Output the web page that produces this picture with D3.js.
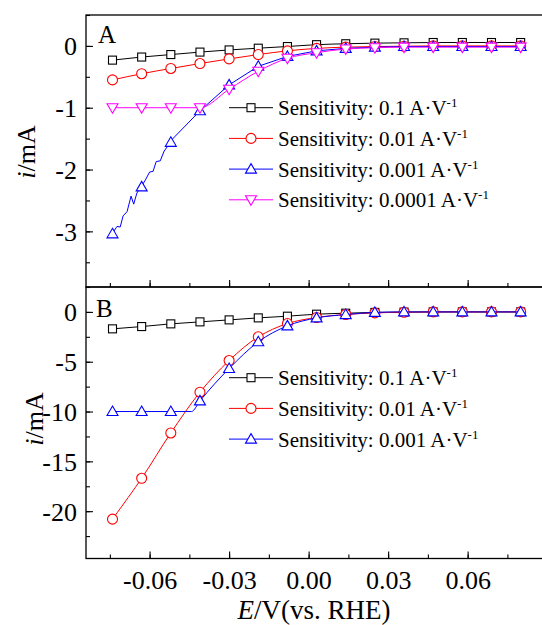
<!DOCTYPE html>
<html>
<head>
<meta charset="utf-8">
<script src="https://cdn.jsdelivr.net/npm/d3@7"></script>
<style>
  body { margin: 0; background: #fff; }
  svg, svg text { font-family: "Liberation Serif", "Times New Roman", serif; }
  .tick text { font-size: 26px; fill: #000; font-family: "Liberation Serif", "Times New Roman", serif; }
</style>
</head>
<body>
<div id="chart"></div>
<script>
// potential values (V vs. RHE) where markers sit
const potentials = [-0.074, -0.063, -0.052, -0.041, -0.030, -0.019, -0.008, 0.003, 0.014, 0.025, 0.036, 0.047, 0.058, 0.069, 0.080];

// panel A currents (mA)
const a_0_1 = [-0.23, -0.18, -0.14, -0.10, -0.065, -0.037, -0.01, 0.02, 0.035, 0.045, 0.05, 0.055, 0.055, 0.055, 0.055];
const a_0_01 = [-0.55, -0.45, -0.365, -0.285, -0.21, -0.14, -0.08, -0.04, -0.02, -0.01, -0.005, 0, 0, 0, 0];
const a_0_001 = [-3.04, -2.28, -1.56, -1.05, -0.63, -0.33, -0.17, -0.08, -0.04, -0.02, -0.01, -0.01, -0.01, -0.01, -0.01];
const a_0_0001 = [-1.0, -1.0, -1.0, -1.0, -0.70, -0.41, -0.20, -0.11, -0.05, -0.03, -0.02, -0.02, -0.02, -0.02, -0.02];
// noisy start of the 0.001 A/V trace in panel A
const a_0_001_traceE = [-0.0740, -0.0723, -0.0711, -0.0700, -0.0685, -0.0670, -0.0660, -0.0648, -0.0632, -0.0616, -0.0600, -0.0587, -0.0575, -0.0560, -0.0545, -0.0528, -0.0519];
const a_0_001_traceI = [-3.03, -2.92, -2.93, -2.75, -2.68, -2.43, -2.56, -2.38, -2.28, -2.17, -2.04, -2.03, -1.87, -1.86, -1.70, -1.60, -1.53];

// panel B currents (mA)
const b_0_1 = [-1.7, -1.47, -1.2, -1.0, -0.8, -0.6, -0.43, -0.23, -0.13, -0.05, -0.02, 0, 0, 0, 0];
const b_0_01 = [-20.8, -16.7, -12.15, -8.06, -4.88, -2.5, -1.17, -0.56, -0.26, -0.1, -0.03, 0, 0, 0, 0];
const b_0_001 = [-10.0, -10.0, -10.0, -8.93, -5.68, -3.0, -1.4, -0.6, -0.27, -0.05, 0, 0, 0, 0, 0];
// where the clipped 0.001 A/V trace leaves the -10 mA plateau
const b_0_001_knee = [-0.0442, -10.0];

const sensA = ['0.1', '0.01', '0.001', '0.0001'];
const sensB = ['0.1', '0.01', '0.001'];

const yTicksA = [0, -1, -2, -3];
const yTicksB = [0, -5, -10, -15, -20];
const xTicks = [-0.06, -0.03, 0.00, 0.03, 0.06];

const width = 542, height = 625;
const left = 86, right = 544.5;
const serif = '"Liberation Serif", "Times New Roman", serif';
const fmt = d3.format('.2f');

const svg = d3.select('#chart')
  .append('svg')
  .attr('width', width)
  .attr('height', height);

const x = d3.scaleLinear().domain([-0.084, 0.089]).range([left, right]);
const yA = d3.scaleLinear().domain([-3.9, 0.5]).range([287, 15]);
const yB = d3.scaleLinear().domain([-24.75, 2.5]).range([558.5, 287]);

const styles = {
  '0.1': { color: '#000000', shape: 'square' },
  '0.01': { color: '#ff0000', shape: 'circle' },
  '0.001': { color: '#0000ff', shape: 'up' },
  '0.0001': { color: '#ff00ff', shape: 'down' }
};

function marker(g, shape, color) {
  let m;
  if (shape === 'square') {
    m = g.append('rect').attr('x', -4).attr('y', -4).attr('width', 8).attr('height', 8);
  } else if (shape === 'circle') {
    m = g.append('circle').attr('r', 5);
  } else if (shape === 'up') {
    m = g.append('path').attr('d', 'M0,-5.5L5.5,4L-5.5,4Z');
  } else {
    m = g.append('path').attr('d', 'M0,5.5L5.5,-4L-5.5,-4Z');
  }
  m.attr('fill', '#fff').attr('stroke', color).attr('stroke-width', 1.1);
}

function drawSeries(g, y, pts, markerVals, key, curve) {
  const st = styles[key];
  const line = d3.line()
    .x(d => x(d[0]))
    .y(d => y(d[1]))
    .curve(curve || d3.curveMonotoneX);
  g.append('path')
    .datum(pts)
    .attr('fill', 'none')
    .attr('stroke', st.color)
    .attr('stroke-width', 1)
    .attr('d', line);
  markerVals.forEach((v, i) => {
    const mg = g.append('g').attr('transform', `translate(${x(potentials[i])},${y(v)})`);
    marker(mg, st.shape, st.color);
  });
}

function pairs(vals) {
  return potentials.map((e, i) => [e, vals[i]]);
}

function legend(g, keys, y0) {
  keys.forEach((k, i) => {
    const yy = y0 + i * 30.7;
    const st = styles[k];
    g.append('line')
      .attr('x1', 229).attr('x2', 273)
      .attr('y1', yy).attr('y2', yy)
      .attr('stroke', st.color).attr('stroke-width', 1);
    const mg = g.append('g').attr('transform', `translate(251,${yy})`);
    marker(mg, st.shape, st.color);
    const t = g.append('text')
      .attr('x', 278).attr('y', yy + 7.5)
      .attr('font-family', serif)
      .style('font-size', '21px');
    t.append('tspan').text(`Sensitivity: ${k} A\u00b7V`);
    t.append('tspan').attr('dy', -8).style('font-size', '13px').text('-1');
  });
}

function frame(y, top, bottom, yTicks, minorStep, showXLabels) {
  const g = svg.append('g');
  // y axis (ticks inside)
  const [d0, d1] = y.domain();
  const minor = d3.range(Math.ceil(d0 / minorStep) * minorStep, d1 + 1e-9, minorStep);
  g.append('g')
    .attr('transform', `translate(${left},0)`)
    .call(d3.axisRight(y).tickValues(minor).tickSize(4).tickFormat(''))
    .call(s => s.select('.domain').remove());
  g.append('g')
    .attr('transform', `translate(${left},0)`)
    .call(d3.axisRight(y).tickValues(yTicks).tickSize(7).tickFormat(d => String(d)))
    .attr('font-family', serif)
    .call(s => s.select('.domain').remove())
    .call(s => s.selectAll('.tick text').attr('x', -9).attr('text-anchor', 'end').attr('dy', '0.34em'));
  // x axis at bottom (ticks inside)
  const xMinor = d3.range(-0.075, 0.089, 0.015);
  g.append('g')
    .attr('transform', `translate(0,${bottom})`)
    .call(d3.axisTop(x).tickValues(xMinor).tickSize(4).tickFormat(''))
    .call(s => s.select('.domain').remove());
  const xa = g.append('g')
    .attr('transform', `translate(0,${bottom})`)
    .call(d3.axisTop(x).tickValues(xTicks).tickSize(7).tickFormat(d => fmt(d).replace('\u2212', '-')))
    .attr('font-family', serif)
    .call(s => s.select('.domain').remove());
  if (showXLabels) {
    xa.selectAll('.tick text').attr('y', 30.5).attr('dy', 0).attr('text-anchor', 'middle');
  } else {
    xa.selectAll('.tick text').remove();
  }
  g.selectAll('.tick line').attr('stroke', '#000').attr('stroke-width', 1.1);
  // box
  g.append('rect')
    .attr('x', left).attr('y', top)
    .attr('width', right - left).attr('height', bottom - top)
    .attr('fill', 'none').attr('stroke', '#000').attr('stroke-width', 1.3);
  return g;
}

// Panel A
frame(yA, 15, 287, yTicksA, 0.5, false);
const gA = svg.append('g');
drawSeries(gA, yA, pairs(a_0_1), a_0_1, '0.1');
drawSeries(gA, yA, pairs(a_0_01), a_0_01, '0.01');
const traceA = a_0_001_traceE.map((e, i) => [e, a_0_001_traceI[i]])
  .concat(pairs(a_0_001).filter(d => d[0] > -0.05));
drawSeries(gA, yA, traceA, a_0_001, '0.001', d3.curveLinear);
drawSeries(gA, yA, pairs(a_0_0001), a_0_0001, '0.0001');
legend(gA, sensA, 107.7);

// Panel B
frame(yB, 287, 558.5, yTicksB, 2.5, true);
const gB = svg.append('g');
drawSeries(gB, yB, pairs(b_0_1), b_0_1, '0.1');
drawSeries(gB, yB, pairs(b_0_01), b_0_01, '0.01', d3.curveCatmullRom);
const traceB = pairs(b_0_001).filter(d => d[0] < -0.045)
  .concat([b_0_001_knee])
  .concat(pairs(b_0_001).filter(d => d[0] > -0.045));
drawSeries(gB, yB, traceB, b_0_001, '0.001');
legend(gB, sensB, 377.7);

// panel letters
svg.append('text').attr('x', 98).attr('y', 43).attr('font-family', serif).style('font-size', '25px').text('A');
svg.append('text').attr('x', 96).attr('y', 317).attr('font-family', serif).style('font-size', '25px').text('B');

// y axis labels
[[152, 35], [419, 43]].forEach(([cy, cx]) => {
  const t = svg.append('text')
    .attr('transform', `translate(${cx},${cy}) rotate(-90)`)
    .attr('text-anchor', 'middle')
    .attr('font-family', serif)
    .style('font-size', '26px');
  t.append('tspan').style('font-style', 'italic').text('i');
  t.append('tspan').text('/mA');
});

// x axis label
const xl = svg.append('text')
  .attr('x', 314).attr('y', 619)
  .attr('text-anchor', 'middle')
  .attr('font-family', serif)
  .style('font-size', '27px');
xl.append('tspan').style('font-style', 'italic').text('E');
xl.append('tspan').text('/V(vs. RHE)');
</script>
</body>
</html>
